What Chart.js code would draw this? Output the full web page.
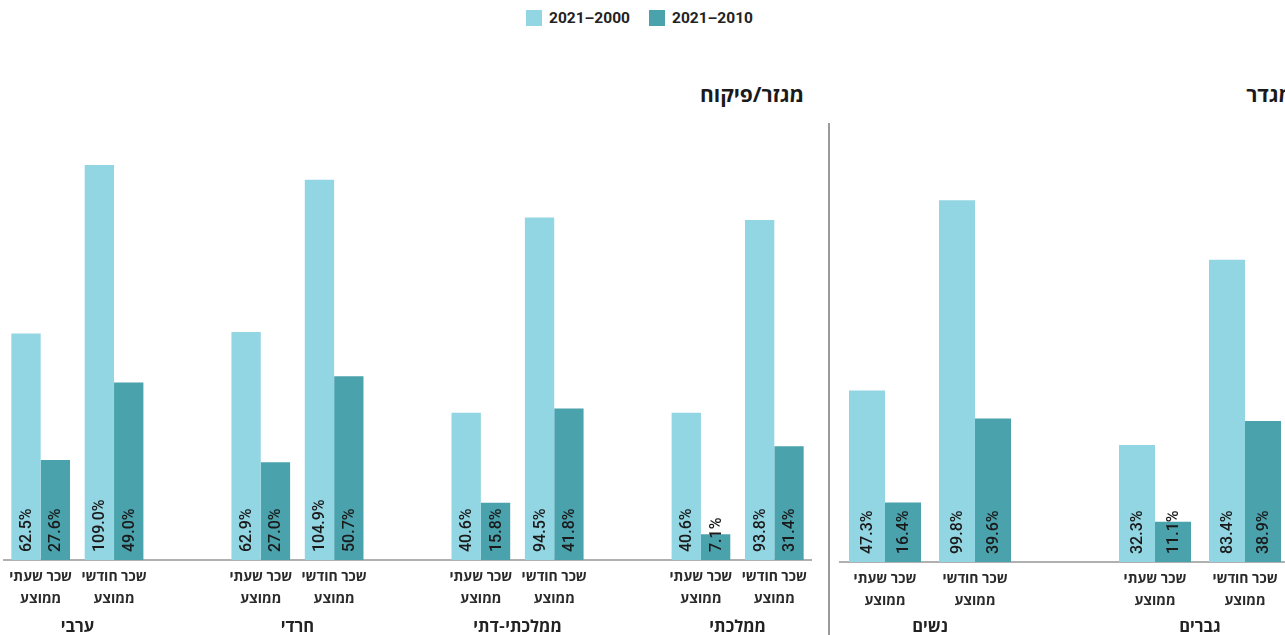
<!DOCTYPE html>
<html><head><meta charset="utf-8">
<script src="https://cdn.jsdelivr.net/npm/chart.js@4.4.1/dist/chart.umd.min.js"></script>
<style>
html,body{margin:0;padding:0;width:1285px;height:635px;overflow:hidden;background:#fff;font-family:Roboto,'Open Sans',sans-serif;position:relative;}
.lg{position:absolute;top:10px;height:16px;display:flex;align-items:center;font:bold 15.5px Roboto,'Open Sans',sans-serif;color:#222;}
.lg i{display:inline-block;width:16px;height:16px;margin-right:7px;}
.title{position:absolute;font:bold 21px 'Open Sans',Roboto,sans-serif;color:#1a1a1a;white-space:nowrap;line-height:26px;}
#sep{position:absolute;left:828px;top:123px;width:1.5px;height:520px;background:#9a9a9a;}
.cv{position:absolute;top:0;}
</style></head>
<body>
<div class="lg" style="left:526px"><i style="background:#93d6e3"></i><span id="lg0" dir="rtl"></span></div>
<div class="lg" style="left:649px"><i style="background:#4aa2ad"></i><span id="lg1" dir="rtl"></span></div>
<div class="title" dir="rtl" style="right:481px;top:81px">מגזר/פיקוח</div>
<div class="title" dir="rtl" style="right:-8px;top:81px">מגדר</div>
<div id="sep"></div>
<canvas id="cl" class="cv" style="left:0" width="830" height="635"></canvas>
<canvas id="cr" class="cv" style="left:820px" width="480" height="635"></canvas>
<script>
const legendLabels = ['2000–2021', '2010–2021'];
const colors = ['#93d6e3', '#4aa2ad'];
const measureLabels = [['שכר שעתי', 'ממוצע'], ['שכר חודשי', 'ממוצע']];

const sectorGroups = ['ערבי', 'חרדי', 'ממלכתי-דתי', 'ממלכתי'];
const sectorHourly2000 = [62.5, 62.9, 40.6, 40.6];
const sectorHourly2010 = [27.6, 27.0, 15.8, 7.1];
const sectorMonthly2000 = [109.0, 104.9, 94.5, 93.8];
const sectorMonthly2010 = [49.0, 50.7, 41.8, 31.4];

const genderGroups = ['נשים', 'גברים'];
const genderHourly2000 = [47.3, 32.3];
const genderHourly2010 = [16.4, 11.1];
const genderMonthly2000 = [99.8, 83.4];
const genderMonthly2010 = [39.6, 38.9];

document.getElementById('lg0').textContent = legendLabels[0];
document.getElementById('lg1').textContent = legendLabels[1];

function build(groups, h0, h1, m0, m1) {
  const labels = [], a = [], b = [], pos = [];
  groups.forEach((g, i) => {
    pos.push([labels.length, labels.length + 1]);
    labels.push(measureLabels[0]); a.push(h0[i]); b.push(h1[i]);
    labels.push(measureLabels[1]); a.push(m0[i]); b.push(m1[i]);
    if (i < groups.length - 1) { labels.push(''); a.push(null); b.push(null); }
  });
  return { labels, a, b, pos };
}

const FONT = "Roboto, 'Open Sans', sans-serif";

const valueLabels = {
  id: 'valueLabels',
  afterDatasetsDraw(chart) {
    const ctx = chart.ctx;
    ctx.save();
    ctx.direction = 'ltr';
    ctx.font = '500 16px ' + FONT;
    ctx.fillStyle = '#1a1a1a';
    ctx.textAlign = 'left';
    ctx.textBaseline = 'middle';
    chart.data.datasets.forEach((ds, di) => {
      const meta = chart.getDatasetMeta(di);
      meta.data.forEach((el, i) => {
        const v = ds.data[i];
        if (v === null || v === undefined) return;
        ctx.save();
        ctx.translate(el.x + 1, el.base - 8);
        ctx.rotate(-Math.PI / 2);
        ctx.fillText(v.toFixed(1) + '%', 0, 0);
        ctx.restore();
      });
    });
    ctx.restore();
  }
};

const groupLabels = {
  id: 'groupLabels',
  afterDraw(chart, args, opts) {
    const ctx = chart.ctx, xs = chart.scales.x;
    ctx.save();
    ctx.font = 'bold 16.5px ' + FONT;
    ctx.fillStyle = '#222';
    ctx.textAlign = 'center';
    ctx.textBaseline = 'middle';
    opts.groups.forEach((g, i) => {
      const [p, q] = opts.pos[i];
      const x = (xs.getPixelForValue(p) + xs.getPixelForValue(q)) / 2;
      ctx.fillText(g, x, chart.chartArea.bottom + opts.offset);
    });
    ctx.restore();
  }
};

function makeChart(id, groups, h0, h1, m0, m1, pad, axisH, offset) {
  const d = build(groups, h0, h1, m0, m1);
  return new Chart(document.getElementById(id), {
    type: 'bar',
    data: {
      labels: d.labels,
      datasets: [
        { label: legendLabels[0], data: d.a, backgroundColor: colors[0], borderWidth: 0 },
        { label: legendLabels[1], data: d.b, backgroundColor: colors[1], borderWidth: 0 }
      ]
    },
    options: {
      responsive: false,
      animation: false,
      devicePixelRatio: 1,
      layout: { padding: pad },
      categoryPercentage: 0.8,
      barPercentage: 1.0,
      plugins: {
        legend: { display: false },
        tooltip: { enabled: false },
        groupLabels: { groups, pos: d.pos, offset }
      },
      scales: {
        x: {
          grid: { display: false, drawTicks: false },
          border: { display: true, color: '#b0b0b0', width: 2 },
          ticks: { padding: 7, color: '#2a2a2a', autoSkip: false, maxRotation: 0,
                   font: { family: FONT, size: 14, weight: '700', lineHeight: 1.55 } },
          afterFit(s) { s.height = axisH; }
        },
        y: { display: false, min: 0, max: 120 }
      }
    },
    plugins: [valueLabels, groupLabels]
  });
}

makeChart('cl', sectorGroups, sectorHourly2000, sectorHourly2010, sectorMonthly2000, sectorMonthly2010,
  { left: 4, right: 19, top: 125, bottom: 0 }, 75, 68);
makeChart('cr', genderGroups, genderHourly2000, genderHourly2010, genderMonthly2000, genderMonthly2010,
  { left: 20, right: 10, top: 127, bottom: 0 }, 73, 66);
</script>
</body></html>
